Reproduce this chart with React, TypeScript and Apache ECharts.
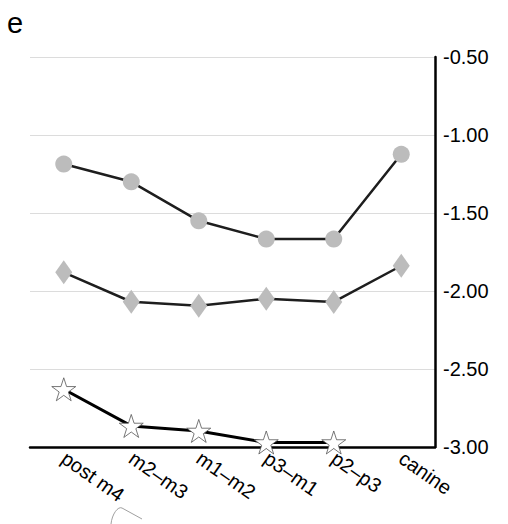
import React, { useEffect, useRef } from "react";
import * as echarts from "echarts";

const categories = ["post m4", "m2–m3", "m1–m2", "p3–m1", "p2–p3", "canine"];
const circleValues = [-1.186, -1.3, -1.55, -1.667, -1.667, -1.124];
const diamondValues = [-1.88, -2.069, -2.094, -2.049, -2.07, -1.838];
const starValues = [-2.63, -2.865, -2.897, -2.971, -2.971, null];
const yTicks = { min: -3, max: -0.5, interval: 0.5 };

const STAR =
  "path://M50 0 L61.23 34.55 L97.55 34.55 L68.17 55.9 L79.39 90.45 L50 69.1 L20.61 90.45 L31.83 55.9 L2.45 34.55 L38.77 34.55 Z";

export default function App() {
  const ref = useRef<HTMLDivElement>(null);
  useEffect(() => {
    if (!ref.current) return;
    const chart = echarts.init(ref.current, null, { renderer: "svg" });
    const font = "Liberation Sans, Arial, sans-serif";
    const lineStyle = { color: "#1e1e1e", width: 2.5 };
    chart.setOption({
      animation: false,
      backgroundColor: "#ffffff",
      textStyle: { fontFamily: font },
      grid: { left: 30, right: 73, top: 57, bottom: 77 },
      graphic: [
        {
          type: "text",
          x: 7,
          y: 22.5,
          style: { text: "e", fontSize: 29, fill: "#000", fontFamily: font, verticalAlign: "middle" },
        },
        {
          type: "bezierCurve",
          shape: { x1: 111, y1: 524, x2: 122, y2: 508, cpx1: 112, cpy1: 514, cpx2: 118, cpy2: 506 },
          style: { stroke: "#888", lineWidth: 0.8, fill: null },
        },
        {
          type: "line",
          shape: { x1: 122, y1: 508, x2: 142, y2: 519 },
          style: { stroke: "#888", lineWidth: 0.8 },
        },
      ],
      xAxis: {
        type: "category",
        data: categories,
        boundaryGap: true,
        axisLine: { show: true, lineStyle: { color: "#000", width: 2.5 } },
        axisTick: { show: false },
        axisLabel: {
          rotate: -35,
          fontSize: 20,
          color: "#000",
          margin: 9,
          interval: 0,
          fontFamily: font,
        },
        splitLine: { show: false },
      },
      yAxis: {
        type: "value",
        position: "right",
        min: yTicks.min,
        max: yTicks.max,
        interval: yTicks.interval,
        axisLine: { show: true, lineStyle: { color: "#000", width: 2.5 } },
        axisTick: { show: false },
        axisLabel: {
          fontSize: 20,
          color: "#000",
          margin: 8,
          fontFamily: font,
          formatter: (v: number) => v.toFixed(2),
        },
        splitLine: { show: true, lineStyle: { color: "#dcdcdc", width: 1 } },
      },
      series: [
        {
          type: "line",
          data: circleValues,
          symbol: "circle",
          symbolSize: 17,
          lineStyle,
          itemStyle: { color: "#bcbcbc" },
          z: 3,
        },
        {
          type: "line",
          data: diamondValues,
          symbol: "diamond",
          symbolSize: [17, 24],
          lineStyle,
          itemStyle: { color: "#bcbcbc" },
          z: 3,
        },
        {
          type: "line",
          data: starValues,
          symbol: STAR,
          symbolSize: [24, 23],
          lineStyle: { color: "#000", width: 3 },
          itemStyle: { color: "#ffffff", borderColor: "#555", borderWidth: 0.8 },
          z: 3,
        },
      ],
    });
    return () => chart.dispose();
  }, []);
  return (
    <div
      ref={ref}
      style={{ position: "absolute", left: 0, top: 0, width: 508, height: 524 }}
    />
  );
}
